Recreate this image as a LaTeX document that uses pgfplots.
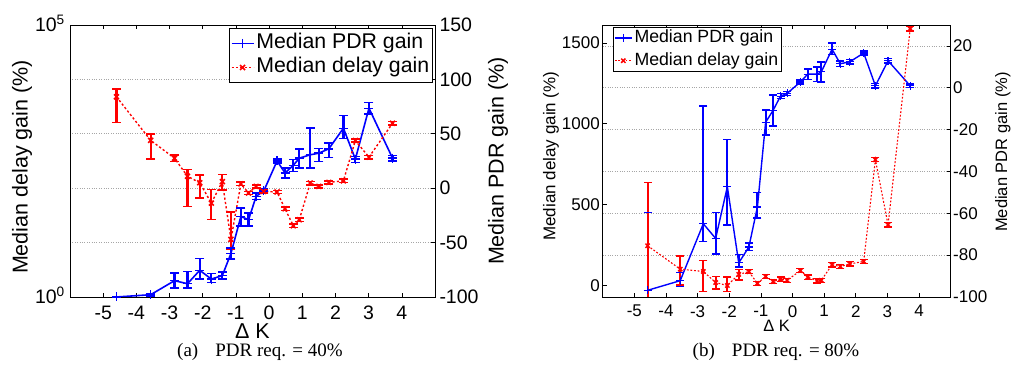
\documentclass[border=0pt]{standalone}
\usepackage{pgfplots}
\pgfplotsset{compat=1.18}
\usepackage{pgfplotstable}
\usepackage{fontspec}
\setmainfont{Liberation Sans}
\newfontfamily\capfont{Liberation Serif}

% (a) PDR req. = 40%  (values in right-axis units)
\pgfplotstableread{
x      pdr     pdrp   pdrm   del    delp   delm
-4.60  -100.0  0.0    0.0    84.0   7.0    23.5
-3.57  -97.9   1.0    1.0    44.0   6.0    17.0
-2.85  -85.0   7.0    6.7    27.5   3.0    3.0
-2.46  -87.8   11.4   4.0    11.0   6.0    28.0
-2.09  -75.5   10.7   8.0    5.0    7.0    14.0
-1.74  -83.5   5.0    3.0    -13.7  12.5   15.0
-1.41  -80.4   3.4    3.0    6.0    6.5    7.5
-1.15  -60.0   5.0    5.0    -47.0  25.0   9.5
-0.85  -26.0   7.7    9.0    4.0    1.5    1.5
-0.62  -29.0   6.0    5.5    -4.4   1.5    1.5
-0.39  -7.5    3.0    3.0    1.6    1.5    1.5
-0.16  -2.5    2.0    2.0    -3.0   1.5    1.5
0.24   25.0    2.0    2.0    -3.5   1.5    1.5
0.48   14.0    4.5    4.5    -18.9  1.5    1.5
0.73   21.0    5.5    5.5    -34.5  1.5    1.5
0.91   27.6    8.3    9.2    -29.0  1.5    1.5
1.24   30.7    24.4   12.3   4.7    1.5    1.5
1.50   32.2    4.3    7.6    1.6    1.5    1.5
1.80   36.2    5.2    7.9    5.3    1.5    1.5
2.24   55.1    11.7   9.4    6.8    1.5    1.5
2.60   26.7    2.5    3.0    43.8   1.5    1.5
3.01   73.5    5.2    5.5    28.5   1.5    1.5
3.72   27.6    2.5    2.5    59.7   1.5    1.5
}\dataA

% (b) PDR req. = 80%  (values in right-axis units)
\pgfplotstableread{
x      pdr     pdrp   pdrm   del    delp   delm
-4.58  -96.8   37.3   8.0    -75.5  30.3   28.0
-3.55  -92.2   4.0    2.6    -86.7  6.3    7.5
-2.82  -65.0   56.2   8.6    -87.8  5.1    9.7
-2.43  -72.0   12.3   7.5    -93.1  2.8    3.1
-2.06  -47.3   22.6   18.3   -94.5  4.0    3.0
-1.70  -83.7   4.0    2.0    -89.2  2.3    2.7
-1.38  -76.1   2.0    1.6    -87.9  1.0    1.0
-1.11  -57.0   7.0    5.3    -93.5  1.0    1.0
-0.85  -16.5   5.8    6.1    -90.2  1.0    1.0
-0.61  -10.7   7.2    7.6    -92.6  1.0    1.0
-0.38  -4.0    1.2    1.2    -91.5  1.0    1.0
-0.17  -2.7    1.0    1.0    -92.0  1.0    1.0
0.25   2.8     1.0    1.0    -87.4  1.0    1.0
0.48   6.5     2.5    2.5    -90.5  1.0    1.0
0.78   6.5     3.5    3.6    -92.3  1.0    1.0
0.91   7.6     4.8    4.8    -92.0  1.0    1.0
1.25   18.4    2.9    2.4    -84.6  1.0    1.0
1.51   11.5    1.2    1.2    -85.4  1.0    1.0
1.81   12.4    1.0    1.0    -84.2  1.0    1.0
2.25   16.6    1.0    1.0    -83.0  1.0    1.0
2.62   0.95    1.0    1.0    -34.4  1.0    1.0
3.02   12.9    1.0    1.0    -65.5  1.0    1.0
3.72   0.95    0.8    0.8    28.2   1.0    1.0
}\dataB

\pgfplotsset{
  base/.style={
    scale only axis,
    anchor=south west,
    height=272pt,
    xmin=-6, xmax=5,
    tick align=inside,
    major tick length=4pt,
    axis line style={line width=0.9pt},
    major tick style={black, line width=0.6pt},
  },
  mylegend/.style={
    legend image code/.code={
      \draw[mark repeat=2,mark phase=2,##1] plot coordinates {(0pt,0pt) (#1/2,0pt) (#1,0pt)};
    },
  },
}
% error bars drawn as vertical quiver segments plus cap marks
% #1 table, #2 value col, #3 plus col, #4 minus col, #5 colour, #6 bar width, #7 cap size, #8 cap width
\newcommand{\ebar}[8]{%
  \addplot[#5, solid, line width=#6, mark=none, forget plot,
    quiver={u=0, v=\thisrow{#3}+\thisrow{#4}}]
    table[x=x, y expr=\thisrow{#2}-\thisrow{#4}] {#1};
  \addplot[#5, only marks, mark=-, mark size=#7, mark options={solid, line width=#8}, forget plot]
    table[x=x, y expr=\thisrow{#2}+\thisrow{#3}] {#1};
  \addplot[#5, only marks, mark=-, mark size=#7, mark options={solid, line width=#8}, forget plot]
    table[x=x, y expr=\thisrow{#2}-\thisrow{#4}] {#1};
}

\begin{document}
\begin{tikzpicture}

%================ (a) left axis (log) ================
\begin{axis}[base, at={(70pt,90pt)}, width=365pt,
  ymode=log, ymin=1, ymax=1e5, ytick={1,1e5},
  yticklabels={10\textsuperscript{0},10\textsuperscript{5}},
  yminorticks=false, ytick pos=left,
  xtick={-5,...,4}, xticklabels={-5,-4,-3,-2,-1,0,1,2,3,4},
  xtick pos=both, xticklabel pos=lower,
  tick label style={font=\fontsize{19.5}{20}\selectfont},
  yticklabel style={anchor=base east, inner sep=0pt, xshift=-5pt, yshift=-7pt},
  xticklabel style={anchor=north, inner sep=0pt, yshift=-9pt},
  xlabel={Δ K}, xlabel style={font=\fontsize{21.5}{24}\selectfont, inner sep=0pt, at={(axis description cs:0.5,0)}, anchor=center, yshift=-34pt},
  ylabel={Median delay gain (\%)},
  ylabel style={font=\fontsize{21.5}{24}\selectfont, at={(axis description cs:-0.1315,0.478)}, anchor=center},
]
\end{axis}

%================ (a) right axis ================
\begin{axis}[base, at={(70pt,90pt)}, width=365pt,
  ymin=-100, ymax=150, ytick={-100,-50,...,150},
  yticklabels={-100,-50,0,50,100,150},
  ytick pos=right, yticklabel pos=right, xtick=\empty,
  ymajorgrids, grid style={dotted, gray!70, line width=0.6pt},
  tick label style={font=\fontsize{19.5}{20}\selectfont},
  yticklabel style={anchor=west, inner sep=0pt, xshift=4.3pt},
  ylabel={Median PDR gain (\%)},
  ylabel style={font=\fontsize{21.5}{24}\selectfont, at={(axis description cs:1.1726,0.5)}, anchor=center},
  mylegend=22pt,
  legend style={at={(1,1)}, anchor=north east, xshift=-2.3pt, yshift=-3.3pt,
    font=\fontsize{21.3}{24}\selectfont, draw=black, line width=0.9pt,
    inner xsep=1pt, inner ysep=3pt, row sep=0.5pt, cells={anchor=west},
    nodes={inner sep=2pt, text height=15pt, text depth=4.5pt}},
]
\ebar{\dataA}{pdr}{pdrp}{pdrm}{blue}{2.2pt}{4.5pt}{1.6pt}
\ebar{\dataA}{del}{delp}{delm}{red}{2.2pt}{4.5pt}{1.6pt}
\addplot[blue, solid, line width=1.6pt, mark=+, mark size=4.5pt, mark options={solid, line width=1.4pt}]
  table[x=x, y=pdr] {\dataA};
\addlegendentry{Median PDR gain}
\addplot[red, line width=1.4pt, dash pattern=on 2.2pt off 2.2pt, mark=x, mark size=3.5pt, mark options={solid, line width=1.6pt}]
  table[x=x, y=del] {\dataA};
\addlegendentry{Median delay gain}
\end{axis}

%================ (b) left axis ================
\begin{axis}[base, at={(602.7pt,90pt)}, width=348pt,
  ymin=-70, ymax=1610, ytick={0,500,1000,1500},
  yticklabels={0,500,1000,1500},
  ytick pos=left,
  xtick={-5,...,4}, xticklabels={-5,-4,-3,-2,-1,0,1,2,3,4},
  xtick pos=both, xticklabel pos=lower,
  tick label style={font=\fontsize{17}{18}\selectfont},
  yticklabel style={anchor=east, inner sep=0pt, xshift=-2.7pt},
  xticklabel style={anchor=north, inner sep=0pt, yshift=-8pt},
  xlabel={Δ K}, xlabel style={font=\fontsize{16.5}{18}\selectfont, inner sep=0pt, at={(axis description cs:0.5,0)}, anchor=center, yshift=-29pt},
  ylabel={Median delay gain (\%)},
  ylabel style={font=\fontsize{17}{19}\selectfont, at={(axis description cs:-0.1486,0.518)}, anchor=center},
]
\end{axis}

%================ (b) right axis ================
\begin{axis}[base, at={(602.7pt,90pt)}, width=348pt,
  ymin=-100, ymax=30, ytick={-100,-80,...,20},
  yticklabels={-100,-80,-60,-40,-20,0,20},
  ytick pos=right, yticklabel pos=right, xtick=\empty,
  ymajorgrids, grid style={dotted, gray!70, line width=0.6pt},
  tick label style={font=\fontsize{17}{18}\selectfont},
  yticklabel style={anchor=west, inner sep=0pt, xshift=2.3pt},
  ylabel={Median PDR gain (\%)},
  ylabel style={font=\fontsize{16.5}{19}\selectfont, at={(axis description cs:1.150,0.533)}, anchor=center},
  mylegend=17pt,
  legend style={at={(0,1)}, anchor=north west, xshift=10pt, yshift=-1.7pt,
    font=\fontsize{17.7}{20}\selectfont, draw=black, line width=0.9pt,
    inner xsep=1pt, inner ysep=0.5pt, row sep=2pt, cells={anchor=west},
    nodes={inner sep=2pt, text height=13pt, text depth=3.7pt}},
]
\ebar{\dataB}{pdr}{pdrp}{pdrm}{blue}{2pt}{4pt}{1.4pt}
\ebar{\dataB}{del}{delp}{delm}{red}{2pt}{4pt}{1.3pt}
\addplot[blue, solid, line width=1.4pt, mark=+, mark size=4pt, mark options={solid, line width=1.2pt}]
  table[x=x, y=pdr] {\dataB};
\addlegendentry{Median PDR gain}
\addplot[red, line width=1.1pt, dash pattern=on 1.8pt off 1.8pt, mark=x, mark size=3pt, mark options={solid, line width=1.5pt}]
  table[x=x, y=del] {\dataB};
\addlegendentry{Median delay gain}
\end{axis}

\node[font=\capfont\fontsize{19}{21}\selectfont] at (260pt,35pt) {(a)\hspace{0.9em}PDR req. = 40\%};
\node[font=\capfont\fontsize{19}{21}\selectfont] at (776pt,35pt) {(b)\hspace{0.9em}PDR req. = 80\%};

\pgfresetboundingbox
\useasboundingbox (0pt,0pt) rectangle (1012pt,387pt);
\end{tikzpicture}
\end{document}
